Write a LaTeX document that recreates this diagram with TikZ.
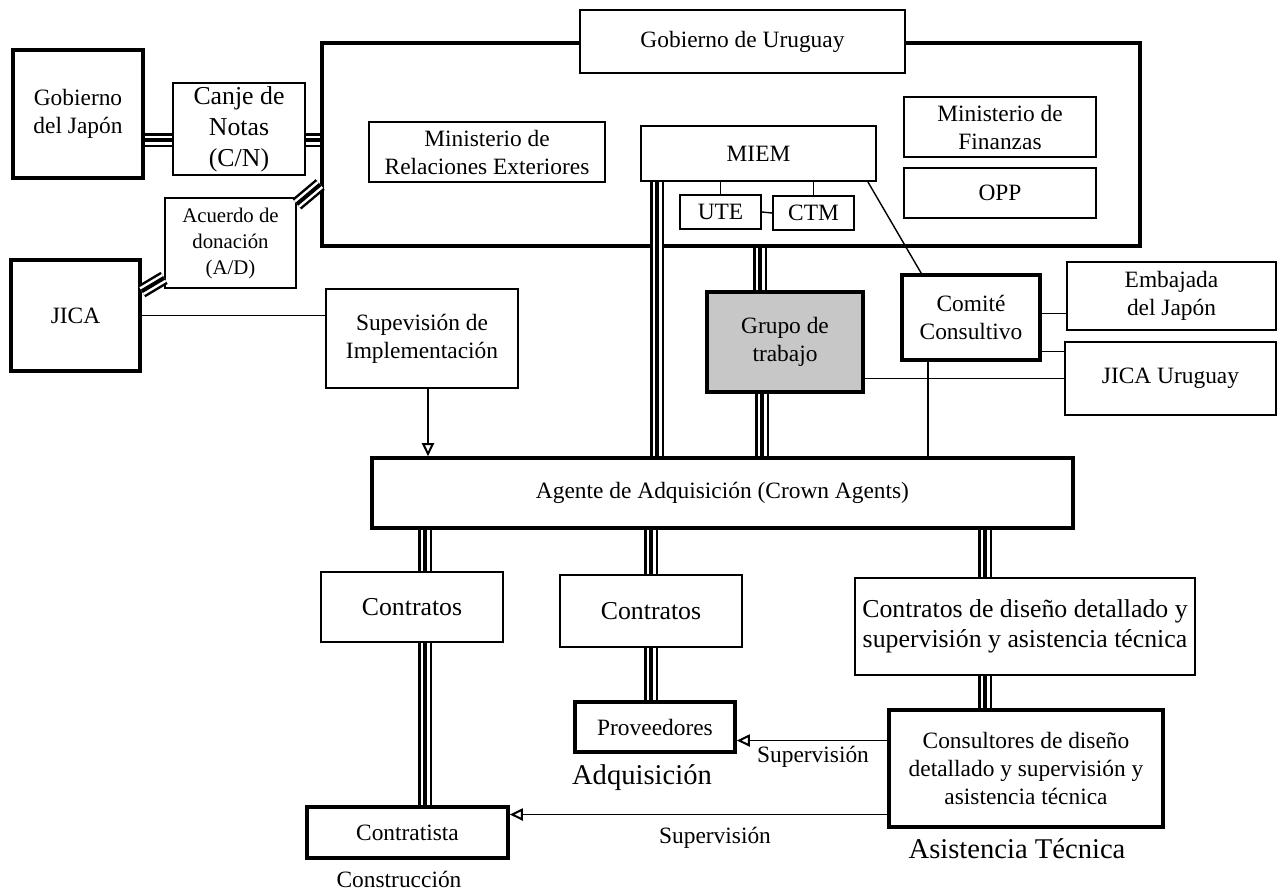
\documentclass[tikz,border=0pt]{standalone}
\usepackage{fontspec}
\setmainfont{Liberation Serif}
\usetikzlibrary{arrows.meta,positioning}
\newcommand{\txtmain}{\fontsize{11.7}{14}\selectfont}
\newcommand{\txtbig}{\fontsize{12.9}{15}\selectfont}
\newcommand{\txtsmall}{\fontsize{10.4}{13}\selectfont}
\newcommand{\txtlarge}{\fontsize{14.3}{17}\selectfont}
\tikzset{%
    >={Triangle[open,length=6.5pt,width=6pt,line width=1pt]},
    base/.style = {
        rectangle, draw=black, fill=white, align=center,
        inner sep=1pt, font=\txtmain
    },
    box/.style = {base, line width=0.9pt},
    boldbox/.style = {base, line width=1.8pt},
    tripleline/.style = {
        draw=white, line width=4.5pt,
        preaction={draw=black, line width=7pt},
        postaction={draw=black, line width=2pt}
    },
    link/.style = {draw=black, line width=0.7pt},
    caption/.style = {font=\txtmain, inner sep=0pt},
}

\begin{document}
\begin{tikzpicture}[x=0.5pt, y=-0.5pt]
    \useasboundingbox (0,0) rectangle (1279,891);
    % Nodes position
    \node (japon)   [boldbox, minimum width=65pt, minimum height=64pt]
                    at (78,114) {Gobierno\\del Japón};
    \node (canje)   [box, minimum width=66pt, minimum height=46pt,
                    font=\fontsize{12.9}{15.5}\selectfont]
                    at (239,129) {Canje de\\Notas\\(C/N)};
    \node (uru)     [boldbox, minimum width=409pt, minimum height=101.5pt]
                    at (731,144.5) {};
    \node (gobuy)   [boldbox, line width=1.4pt, minimum width=162.5pt,
                    minimum height=31.5pt] at (742.5,41.5) {Gobierno de Uruguay};
    \node (mre)     [box, minimum width=118pt, minimum height=30pt]
                    at (487,152) {Ministerio de\\Relaciones Exteriores};
    \node (miem)    [box, minimum width=117.5pt, minimum height=27.5pt]
                    at (758.5,153.5) {MIEM};
    \node (ute)     [box, minimum width=40.5pt, minimum height=17pt]
                    at (720.5,212) {UTE};
    \node (ctm)     [box, minimum width=40.5pt, minimum height=17pt]
                    at (813.5,213) {CTM};
    \node (finanz)  [box, minimum width=96pt, minimum height=30pt]
                    at (1000,127) {Ministerio de\\Finanzas};
    \node (opp)     [box, minimum width=96pt, minimum height=25pt]
                    at (1000,193) {OPP};
    \node (acuerdo) [box, minimum width=65.5pt, minimum height=45pt, font=\txtsmall]
                    at (230.5,243) {Acuerdo de\\donación\\(A/D)};
    \node (jica)    [boldbox, minimum width=64.5pt, minimum height=55.5pt]
                    at (75.5,315.5) {JICA};
    \node (superv)  [box, minimum width=96pt, minimum height=49.5pt]
                    at (422,338.5) {Supevisión de\\Implementación};
    \node (grupo)   [boldbox, fill=black!22, minimum width=78pt, minimum height=50pt]
                    at (785,342) {Grupo de\\trabajo};
    \node (comite)  [boldbox, minimum width=69pt, minimum height=42.5pt]
                    at (971,317.5) {Comité\\Consultivo};
    \node (embajada) [boldbox, line width=1.4pt, minimum width=104.5pt,
                    minimum height=34pt] at (1171.5,296) {Embajada\\del Japón};
    \node (jicauy)  [boldbox, line width=1.4pt, minimum width=105.5pt,
                    minimum height=36.5pt] at (1170.5,378.5) {JICA Uruguay};
    \node (agente)  [boldbox, minimum width=350.5pt, minimum height=35pt]
                    at (722.5,493) {Agente de Adquisición (Crown Agents)};
    \node (contr1)  [box, minimum width=91pt, minimum height=35pt, font=\txtbig]
                    at (412,607) {Contratos};
    \node (contr2)  [box, minimum width=91pt, minimum height=36pt, font=\txtbig]
                    at (651,611) {Contratos};
    \node (contr3)  [box, minimum width=170pt, minimum height=48.5pt, font=\txtbig]
                    at (1025,626.5) {Contratos de diseño detallado y\\supervisión y asistencia técnica};
    \node (proveed) [boldbox, minimum width=80pt, minimum height=25pt]
                    at (655,727) {Proveedores};
    \node (consult) [boldbox, minimum width=137pt, minimum height=58.5pt]
                    at (1026,768.5) {Consultores de diseño\\detallado y supervisión y\\asistencia técnica};
    \node (contratista) [boldbox, minimum width=100.5pt, minimum height=25.5pt]
                    at (407.5,832.5) {Contratista};

    \node (constr)  [caption] at (399,879) {Construcción};
    \node (adquis)  [caption, font=\txtlarge] at (642,778) {Adquisición};
    \node (asist)   [caption, font=\txtlarge] at (1017,849) {Asistencia Técnica};
    \node (sup1)    [caption] at (813,757) {Supervisión};
    \node (sup2)    [caption] at (715,838) {Supervisión};

    % Connections
    \coordinate (jc) at ([yshift=-13pt]japon.east);
    \coordinate (cu) at ([yshift=-5.5pt]canje.east);
    \draw[tripleline] (jc) -- (jc -| canje.west);
    \draw[tripleline] (cu) -- (cu -| uru.west);
    \draw[tripleline] ([yshift=-3.5pt]acuerdo.north east) -- ([yshift=-20pt]uru.west);
    \draw[tripleline] ([yshift=-16.5pt]jica.north east) -- ([yshift=5.5pt]acuerdo.south west);
    \draw[link] (jica.east) -- (jica.east -| superv.west);
    \coordinate (sv) at ([xshift=3pt]superv.south);
    \draw[link,->] (sv) -- (sv |- agente.north);

    \draw[link] (ute.north |- miem.south) -- (ute.north);
    \draw[link] (ctm.north |- miem.south) -- (ctm.north);
    \draw[link] (ute.east) -- (ctm.west);
    \coordinate (mi) at ([xshift=8.5pt]miem.south west);
    \draw[tripleline] (mi) -- (mi |- agente.north);
    \coordinate (g1) at ([xshift=-12.5pt]grupo.north);
    \draw[tripleline] (g1 |- uru.south) -- (g1);
    \coordinate (g2) at ([xshift=-11.5pt]grupo.south);
    \draw[tripleline] (g2) -- (g2 |- agente.north);

    \draw[link] ([xshift=-4.5pt]miem.south east) -- ([xshift=10.5pt]comite.north west);
    \coordinate (ce) at ([yshift=2pt]comite.east);
    \draw[link] (ce) -- (ce -| embajada.west);
    \coordinate (cj) at ([yshift=-17pt]comite.east);
    \draw[link] (cj) -- (cj -| jicauy.west);
    \draw[link] (jicauy.west -| grupo.east) -- (jicauy.west);
    \coordinate (ca) at ([xshift=-21.5pt]comite.south);
    \draw[link] (ca) -- (ca |- agente.north);

    \coordinate (k1) at ([xshift=6.5pt]contr1.north);
    \draw[tripleline] (k1 |- agente.south) -- (k1);
    \coordinate (k2) at ([xshift=6.5pt]contr1.south);
    \draw[tripleline] (k2) -- (k2 |- contratista.north);
    \draw[tripleline] (contr2.north |- agente.south) -- (contr2.north);
    \draw[tripleline] (contr2.south) -- (contr2.south |- proveed.north);
    \coordinate (k3) at ([xshift=-20pt]contr3.north);
    \draw[tripleline] (k3 |- agente.south) -- (k3);
    \coordinate (k4) at ([xshift=-20pt]contr3.south);
    \draw[tripleline] (k4) -- (k4 |- consult.north);

    \coordinate (s1) at ([yshift=14pt]consult.west);
    \draw[link,->] (s1) -- (s1 -| proveed.east);
    \coordinate (s2) at ([yshift=-23pt]consult.west);
    \draw[link,->] (s2) -- (s2 -| contratista.east);
\end{tikzpicture}
\end{document}
